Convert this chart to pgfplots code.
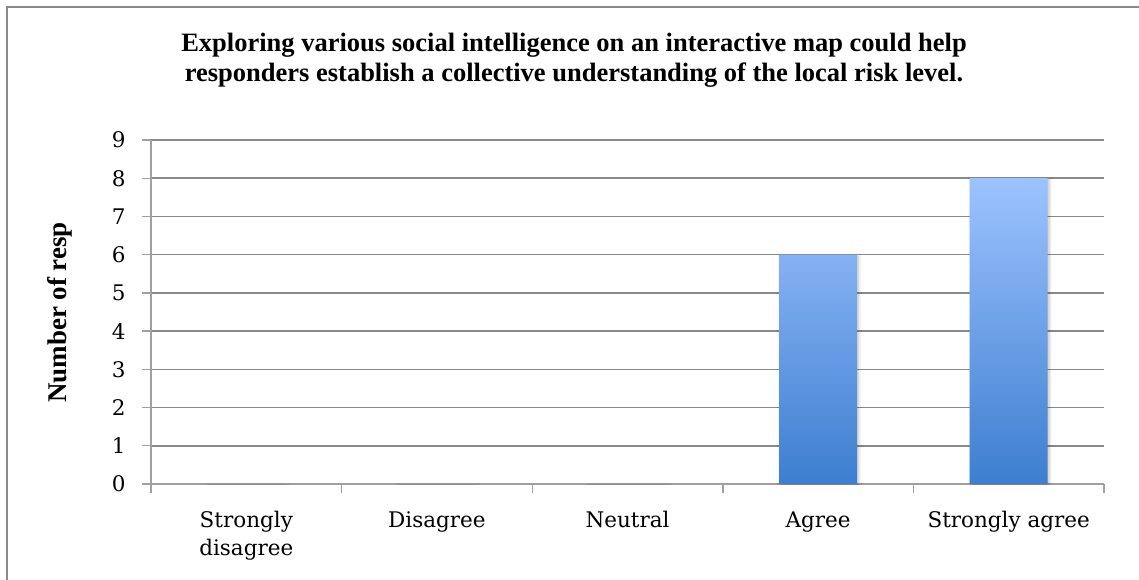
\documentclass[border=0pt]{standalone}
\usepackage{pgfplots}
\pgfplotsset{compat=1.18}
\usetikzlibrary{shadows.blur}
\usepackage{fontspec}
\setmainfont{Liberation Serif}
\newfontfamily\tickfont{DejaVu Serif}

\definecolor{gridgray}{HTML}{8A8A8A}
\definecolor{axisgray}{HTML}{A0A0A0}
\definecolor{framegray}{HTML}{8A8A8A}
\definecolor{bartop}{HTML}{9DC3FF}
\definecolor{barbottom}{HTML}{3D7ECF}

\begin{document}
\begin{tikzpicture}[x=1pt,y=1pt]
  \path[use as bounding box] (0,0) rectangle (1139,579);
  \begin{scope}
    \clip (0,0) rectangle (1139,579);
    \draw[framegray, line width=1.5pt] (7,-20) rectangle (1160,572);
  \end{scope}

  % chart title (anchored at the baseline of its last line)
  \node[align=center, font=\fontsize{26.5}{30}\selectfont\bfseries, anchor=base]
    at (574,497) {Exploring various social intelligence on an interactive map could help\\
    responders establish a collective understanding of the local risk level.};

  % y axis title
  \node[rotate=90, font=\fontsize{27}{30}\selectfont\bfseries] at (60,266.5) {Number of resp};

  \begin{axis}[
    at={(151pt,95pt)}, anchor=south west,
    scale only axis, width=953pt, height=344pt,
    xmin=0, xmax=5, ymin=0, ymax=9,
    axis lines*=left,
    axis line style={axisgray, line width=1.4pt},
    ytick={0,...,9},
    ymajorgrids,
    grid style={gridgray, line width=1.6pt},
    tick style={axisgray, line width=1.4pt},
    tick align=outside,
    major tick length=9pt,
    xtick={0,...,5},
    x tick label as interval,
    xticklabels={Strongly\\disagree, Disagree, Neutral, Agree, Strongly agree},
    /pgf/number format/assume math mode=true,
    ticklabel style={font=\tickfont\fontsize{21.5}{28}\selectfont},
    xticklabel style={align=center, yshift=-15pt},
    yticklabel style={xshift=-13pt},
    ybar, bar width=78pt,
  ]
    \addplot[draw=none, top color=bartop, bottom color=barbottom,
      blur shadow={shadow xshift=1.5pt, shadow yshift=-1.5pt,
        shadow blur radius=3pt, shadow blur steps=6, shadow opacity=25}]
      coordinates {(0.5,0) (1.5,0) (2.5,0) (3.5,6) (4.5,8)};
  \end{axis}
\end{tikzpicture}
\end{document}
